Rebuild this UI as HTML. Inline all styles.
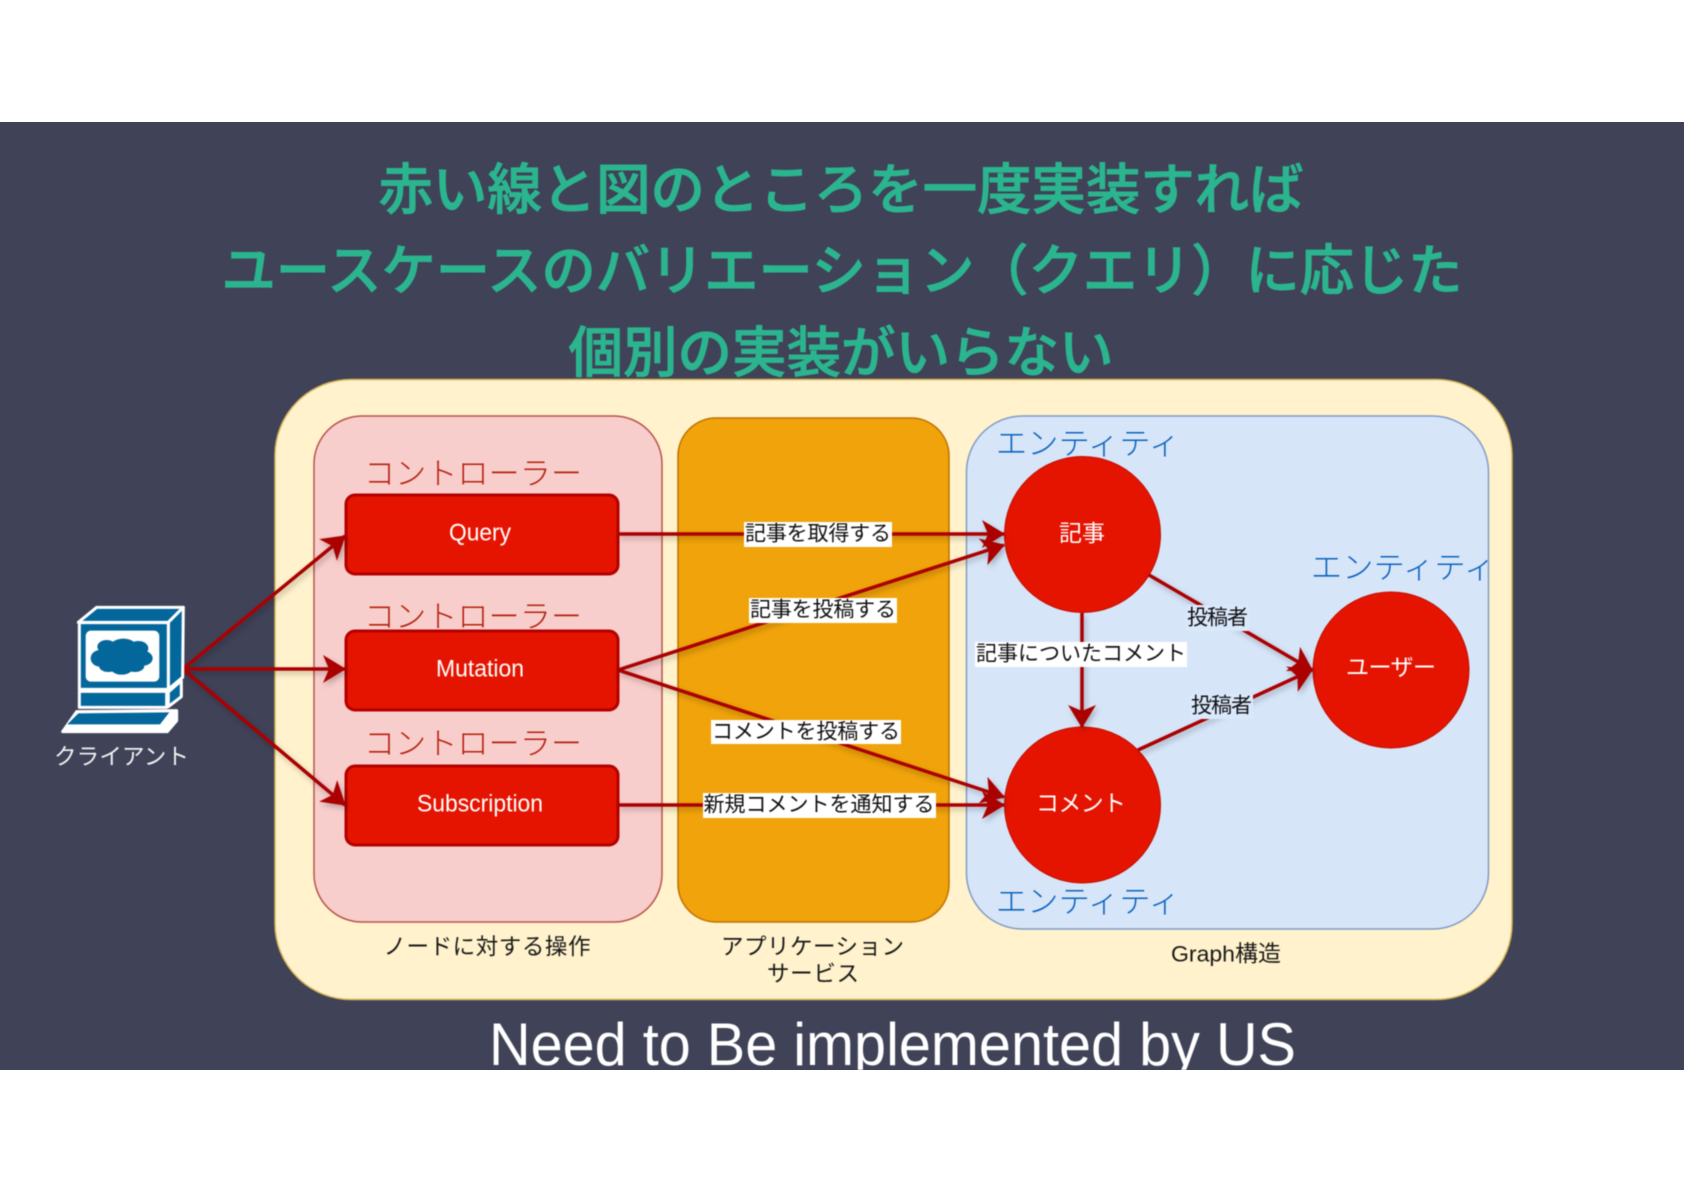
<!DOCTYPE html>
<html lang="ja"><head><meta charset="utf-8"><title>Diagram</title>
<style>
html,body{margin:0;padding:0;background:#fff;width:1684px;height:1191px;overflow:hidden}
svg{display:block}
.all{filter:blur(.45px)}
text{font-family:"Liberation Sans","Noto Sans CJK JP",sans-serif;dominant-baseline:central;text-anchor:middle}
.t{font-size:55px;font-weight:500;fill:#2bb58f;stroke:#2bb58f;stroke-width:.9}
.c{font-size:31px;fill:#b5200d;font-weight:300}
.e{font-size:31px;fill:#0b63bd;font-weight:300}
.l{font-size:21px;fill:#111}
.b{font-size:22.5px;fill:#1a1a1a}
.w{font-size:24px;fill:#fff}
.bar{filter:drop-shadow(2px 3px 3px rgba(0,0,0,.25))}
.bar line{stroke:#ab0000;stroke-width:3.5}
</style></head><body>
<svg width="1684" height="1191" viewBox="0 0 1684 1191" xmlns="http://www.w3.org/2000/svg">
<defs>
<marker id="a" markerUnits="userSpaceOnUse" viewBox="0 0 24 28" markerWidth="24" markerHeight="28" refX="23" refY="14" orient="auto"><path d="M1,0 L24,14 L1,28 L7,14Z" fill="#ab0000"/></marker>
<clipPath id="clip"><rect x="0" y="122" width="1684" height="948"/></clipPath>
</defs>
<rect x="0" y="122" width="1684" height="948" fill="#404258"/>
<g class="all">
<text class="t" x="841" y="190" textLength="925" lengthAdjust="spacingAndGlyphs">赤い線と図のところを一度実装すれば</text>
<text class="t" x="842" y="271" textLength="1241" lengthAdjust="spacingAndGlyphs">ユースケースのバリエーション（クエリ）に応じた</text>
<text class="t" x="841" y="353" textLength="545" lengthAdjust="spacingAndGlyphs">個別の実装がいらない</text>

<rect x="275" y="379.5" width="1237" height="620" rx="76" ry="76" fill="#fff2cc" stroke="#d6b656" stroke-width="1.5"/>
<rect x="314" y="416" width="348" height="506" rx="48" ry="48" fill="#f8cecc" stroke="#b85450" stroke-width="1.5"/>
<rect x="678" y="418" width="271" height="504" rx="38" ry="38" fill="#f0a30a" stroke="#bd7000" stroke-width="1.5"/>
<rect x="966.5" y="416" width="522" height="513" rx="56" ry="56" fill="#d7e5f9" stroke="#7f9cc4" stroke-width="1.5"/>

<text class="c" x="473" y="474" textLength="218">コントローラー</text>
<text class="c" x="473" y="617" textLength="218">コントローラー</text>
<text class="c" x="473" y="744" textLength="218">コントローラー</text>

<rect x="346" y="495" width="272" height="79" rx="9" fill="#e51400" stroke="#b20000" stroke-width="3"/>
<rect x="346" y="631" width="272" height="79" rx="9" fill="#e51400" stroke="#b20000" stroke-width="3"/>
<rect x="346" y="766" width="272" height="79" rx="9" fill="#e51400" stroke="#b20000" stroke-width="3"/>
<text class="w" x="480" y="533" textLength="62" lengthAdjust="spacingAndGlyphs">Query</text>
<text class="w" x="480" y="669" textLength="88" lengthAdjust="spacingAndGlyphs">Mutation</text>
<text class="w" x="480" y="804" textLength="126" lengthAdjust="spacingAndGlyphs">Subscription</text>

<circle cx="1082.5" cy="534.5" r="78" fill="#e51400" stroke="#c01000" stroke-width="1"/>
<circle cx="1082.5" cy="805" r="78" fill="#e51400" stroke="#c01000" stroke-width="1"/>
<circle cx="1391" cy="670" r="78" fill="#e51400" stroke="#c01000" stroke-width="1"/>
<text class="w" x="1082" y="533" textLength="46" style="font-size:23px">記事</text>
<text class="w" x="1081" y="803" textLength="90" style="font-size:23px">コメント</text>
<text class="w" x="1391" y="667" textLength="90" style="font-size:23px">ユーザー</text>

<text class="e" x="1088" y="444" textLength="184">エンティティ</text>
<text class="e" x="1403" y="568" textLength="184">エンティティ</text>
<text class="e" x="1088" y="902" textLength="184">エンティティ</text>

<g class="bar" fill="none">
<line x1="183" y1="669" x2="345" y2="536" marker-end="url(#a)"/>
<line x1="183" y1="669" x2="345" y2="669" marker-end="url(#a)"/>
<line x1="183" y1="669" x2="345" y2="805" marker-end="url(#a)"/>
<line x1="618" y1="534" x2="1004" y2="534" marker-end="url(#a)"/>
<line x1="618" y1="670" x2="1004" y2="545" marker-end="url(#a)"/>
<line x1="618" y1="670" x2="1004" y2="797" marker-end="url(#a)"/>
<line x1="618" y1="805" x2="1004" y2="805" marker-end="url(#a)"/>
<line x1="1082" y1="613" x2="1082" y2="727" marker-end="url(#a)"/>
<line x1="1149" y1="575" x2="1312" y2="670" marker-end="url(#a)"/>
<line x1="1138" y1="750" x2="1312" y2="670" marker-end="url(#a)"/>
</g>

<g fill="#fff">
<rect x="744" y="522" width="148" height="25"/>
<rect x="749" y="598" width="148" height="25"/>
<rect x="711" y="720" width="190" height="24"/>
<rect x="703" y="793" width="233" height="25"/>
<rect x="975" y="642" width="212" height="25"/>
</g>
<g fill="#dae8fc">
<rect x="1186" y="605" width="63" height="26"/>
<rect x="1190" y="694" width="63" height="25"/>
</g>
<text class="l" x="818" y="534" textLength="146">記事を取得する</text>
<text class="l" x="823" y="610" textLength="146">記事を投稿する</text>
<text class="l" x="806" y="732" textLength="188">コメントを投稿する</text>
<text class="l" x="819" y="805" textLength="231">新規コメントを通知する</text>
<text class="l" x="1081" y="654" textLength="210">記事についたコメント</text>
<text class="l" x="1217.5" y="618" textLength="61">投稿者</text>
<text class="l" x="1221.5" y="706" textLength="61">投稿者</text>

<text class="b" x="487" y="947" textLength="207">ノードに対する操作</text>
<text class="b" x="812.5" y="947" textLength="183">アプリケーション</text>
<text class="b" x="813" y="974" textLength="92">サービス</text>
<text class="b" x="1226" y="954" textLength="110" lengthAdjust="spacingAndGlyphs">Graph構造</text>

<g transform="translate(40,590) scale(.3333)" stroke="#fff" stroke-width="9" fill="#04679b" stroke-linejoin="round">
<polygon points="115,97 170,52 430,52 385,97"/>
<polygon points="385,97 430,52 428,262 385,298"/>
<rect x="118" y="98" width="267" height="200"/>
<polygon points="385,306 424,272 424,320 385,350"/>
<rect x="118" y="304" width="262" height="48"/>
<polygon points="68,425 110,365 410,362 410,392 382,425" fill="#fff"/>
<polygon points="82,403 115,370 388,367 360,403" stroke="none"/>
<rect x="137" y="122" width="221" height="153" rx="16" fill="#fff" stroke="none"/>
<g stroke="none">
<ellipse cx="245" cy="200" rx="70" ry="38"/>
<ellipse cx="200" cy="170" rx="28" ry="20"/>
<ellipse cx="250" cy="168" rx="38" ry="22"/>
<ellipse cx="295" cy="175" rx="30" ry="22"/>
<ellipse cx="180" cy="205" rx="28" ry="25"/>
<ellipse cx="310" cy="205" rx="28" ry="22"/>
<ellipse cx="205" cy="228" rx="28" ry="18"/>
<ellipse cx="245" cy="236" rx="32" ry="18"/>
<ellipse cx="285" cy="228" rx="28" ry="18"/>
</g>
</g>
<text x="121.5" y="757" font-size="22.5" fill="#f2f2f2" textLength="135">クライアント</text>

<g clip-path="url(#clip)"><text x="892.5" y="1065" font-size="60" fill="#fff" textLength="807" lengthAdjust="spacingAndGlyphs" style="dominant-baseline:auto">Need to Be implemented by US</text></g>
</g>
</svg>
</body></html>
